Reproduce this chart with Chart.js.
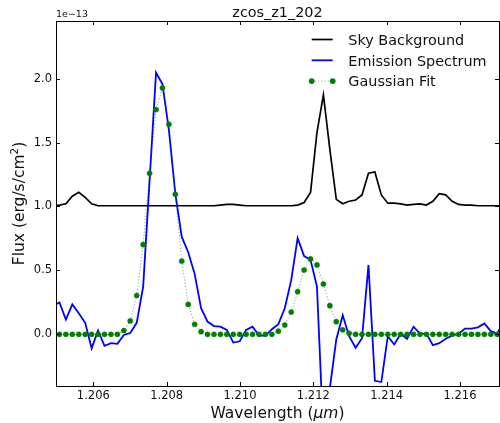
<!DOCTYPE html>
<html>
<head>
<meta charset="utf-8">
<script src="https://cdn.jsdelivr.net/npm/chart.js@4.4.0/dist/chart.umd.min.js"></script>
<style>
  html, body { margin: 0; padding: 0; background: #fff; overflow: hidden; }
  canvas { display: block; }
</style>
</head>
<body>
<canvas id="specChart" width="500" height="423"></canvas>
<script>
// wavelength grid (um), one extra sample each side so the lines reach the frame
const wavelength = [
  1.204900, 1.205076, 1.205252, 1.205427, 1.205603, 1.205778, 1.205954, 1.206129, 1.206305, 1.206481,
  1.206656, 1.206832, 1.207007, 1.207183, 1.207359, 1.207534, 1.207710, 1.207885, 1.208061, 1.208236,
  1.208412, 1.208588, 1.208763, 1.208939, 1.209114, 1.209290, 1.209466, 1.209641, 1.209817, 1.209992,
  1.210168, 1.210343, 1.210519, 1.210695, 1.210870, 1.211046, 1.211221, 1.211397, 1.211572, 1.211748,
  1.211924, 1.212099, 1.212275, 1.212450, 1.212626, 1.212802, 1.212977, 1.213153, 1.213328, 1.213504,
  1.213679, 1.213855, 1.214031, 1.214206, 1.214382, 1.214557, 1.214733, 1.214908, 1.215084, 1.215260,
  1.215435, 1.215611, 1.215786, 1.215962, 1.216138, 1.216313, 1.216489, 1.216664, 1.216840, 1.217015,
  1.217191
];

// flux in units of 1e-13
const skyBackground = [
  1.005, 1.01, 1.02, 1.08, 1.11, 1.07, 1.02, 1.005, 1.005, 1.005,
  1.005, 1.005, 1.005, 1.005, 1.005, 1.005, 1.005, 1.005, 1.005, 1.005,
  1.005, 1.005, 1.005, 1.005, 1.005, 1.005, 1.01, 1.015, 1.015, 1.01,
  1.005, 1.005, 1.005, 1.005, 1.005, 1.005, 1.005, 1.005, 1.01, 1.03,
  1.11, 1.58, 1.875, 1.45, 1.055, 1.02, 1.04, 1.05, 1.09, 1.26,
  1.27, 1.09, 1.025, 1.025, 1.02, 1.01, 1.015, 1.02, 1.01, 1.04,
  1.10, 1.09, 1.04, 1.015, 1.01, 1.01, 1.005, 1.005, 1.005, 1.005,
  1.005
];

const emission = [
  0.22, 0.245, 0.11, 0.23, 0.16, 0.085, -0.115, 0.025, -0.095, -0.075,
  -0.08, -0.01, 0.005, 0.085, 0.37, 1.20, 2.05, 1.96, 1.60, 1.10,
  0.76, 0.64, 0.47, 0.20, 0.095, 0.06, 0.055, 0.03, -0.07, -0.06,
  0.03, 0.055, -0.015, -0.015, 0.035, 0.075, 0.20, 0.42, 0.75, 0.61,
  0.58, 0.37, -0.80, -0.43, -0.045, 0.145, -0.02, -0.11, -0.035, 0.54,
  -0.37, -0.38, -0.02, -0.085, 0.00, -0.04, 0.055, 0.00, 0.00, -0.09,
  -0.075, -0.04, -0.015, 0.00, 0.04, 0.04, 0.05, 0.08, 0.02, 0.00,
  0.10
];

const gaussianFit = [
  null, -0.005, -0.005, -0.005, -0.005, -0.005, -0.005, -0.005, -0.005, -0.005,
  -0.005, 0.024, 0.10, 0.30, 0.70, 1.26, 1.76, 1.93, 1.645, 1.095,
  0.57, 0.23, 0.074, 0.016, -0.005, -0.005, -0.005, -0.005, -0.005, -0.005,
  -0.005, -0.005, -0.005, -0.005, -0.005, 0.02, 0.068, 0.17, 0.33, 0.50,
  0.587, 0.54, 0.39, 0.22, 0.094, 0.03, 0.003, -0.005, -0.005, -0.005,
  -0.005, -0.005, -0.005, -0.005, -0.005, -0.005, -0.005, -0.005, -0.005, -0.005,
  -0.005, -0.005, -0.005, -0.005, -0.005, -0.005, -0.005, -0.005, -0.005, -0.005,
  null
];

const xTicks = [1.206, 1.208, 1.210, 1.212, 1.214, 1.216];
const yTicks = [0.0, 0.5, 1.0, 1.5, 2.0];
const seriesNames = ['Sky Background', 'Emission Spectrum', 'Gaussian Fit'];

const FONT = "'DejaVu Sans', sans-serif";
const GREEN = '#007f00';

function points(values) {
  return wavelength.map((w, i) => ({ x: w, y: values[i] }));
}

// frame, inward ticks, title, axis titles and legend, drawn the matplotlib way
const decorations = {
  id: 'decorations',
  afterDraw(chart) {
    const { ctx, chartArea: a, scales } = chart;
    const xs = scales.x, ys = scales.y;
    ctx.save();

    ctx.strokeStyle = '#000';
    ctx.lineWidth = 1;
    ctx.strokeRect(a.left + 0.5, a.top + 0.5, a.right - a.left, a.bottom - a.top);

    ctx.beginPath();
    xTicks.forEach(v => {
      const px = Math.round(xs.getPixelForValue(v)) + 0.5;
      ctx.moveTo(px, a.bottom); ctx.lineTo(px, a.bottom - 4);
      ctx.moveTo(px, a.top); ctx.lineTo(px, a.top + 4);
    });
    yTicks.forEach(v => {
      const py = Math.round(ys.getPixelForValue(v)) + 0.5;
      ctx.moveTo(a.left, py); ctx.lineTo(a.left + 4, py);
      ctx.moveTo(a.right, py); ctx.lineTo(a.right - 4, py);
    });
    ctx.stroke();

    ctx.fillStyle = '#111';
    ctx.textBaseline = 'alphabetic';

    // title
    ctx.font = '14.4px ' + FONT;
    ctx.textAlign = 'center';
    ctx.fillText('zcos_z1_202', (a.left + a.right) / 2, 17);

    // offset text
    ctx.font = '9.5px ' + FONT;
    ctx.textAlign = 'left';
    ctx.fillText('1e\u221213', a.left, 17);

    // x axis title with italic mu m
    const cx = (a.left + a.right) / 2;
    const parts = [['Wavelength (', 'normal'], ['\u03bcm', 'italic'], [')', 'normal']];
    let total = 0;
    parts.forEach(p => { ctx.font = p[1] + ' 15.5px ' + FONT; total += ctx.measureText(p[0]).width; });
    let tx = cx - total / 2;
    parts.forEach(p => {
      ctx.font = p[1] + ' 15.5px ' + FONT;
      ctx.fillText(p[0], tx, 418);
      tx += ctx.measureText(p[0]).width;
    });

    // y axis title, rotated, with superscript 2
    ctx.save();
    ctx.translate(24, (a.top + a.bottom) / 2);
    ctx.rotate(-Math.PI / 2);
    ctx.font = '15.5px ' + FONT;
    const main = 'Flux (erg/s/cm';
    const mw = ctx.measureText(main).width;
    ctx.font = '10.5px ' + FONT;
    const sw = ctx.measureText('2').width;
    ctx.font = '15.5px ' + FONT;
    const cw = ctx.measureText(')').width;
    let yx = -(mw + sw + cw) / 2;
    ctx.fillText(main, yx, 0);
    yx += mw;
    ctx.font = '10.5px ' + FONT;
    ctx.fillText('2', yx, -6);
    yx += sw;
    ctx.font = '15.5px ' + FONT;
    ctx.fillText(')', yx, 0);
    ctx.restore();

    // legend
    const rows = [39.5, 60.3, 81.1];
    const x0 = 311.7, x1 = 332.7, textX = 348.3;
    ctx.font = '14.4px ' + FONT;
    ctx.textAlign = 'left';
    rows.forEach((ry, i) => {
      const ds = chart.data.datasets[i];
      ctx.save();
      ctx.strokeStyle = ds.borderColor;
      ctx.lineWidth = ds.borderWidth;
      if (i === 2) ctx.setLineDash(ds.borderDash);
      ctx.beginPath(); ctx.moveTo(x0, ry); ctx.lineTo(x1, ry); ctx.stroke();
      if (i === 2) {
        ctx.setLineDash([]);
        ctx.fillStyle = GREEN;
        [x0, x1].forEach(px => {
          ctx.beginPath(); ctx.arc(px, ry, ds.pointRadius + 0.3, 0, Math.PI * 2); ctx.fill();
        });
      }
      ctx.restore();
      ctx.fillText(seriesNames[i], textX, ry + 5.3);
    });

    ctx.restore();
  }
};

new Chart(document.getElementById('specChart').getContext('2d'), {
  type: 'line',
  data: {
    datasets: [
      {
        label: seriesNames[0],
        data: points(skyBackground),
        borderColor: '#000000',
        borderWidth: 1.7,
        pointRadius: 0,
        tension: 0,
        order: 2
      },
      {
        label: seriesNames[1],
        data: points(emission),
        borderColor: '#0000ff',
        borderWidth: 1.8,
        pointRadius: 0,
        tension: 0,
        order: 1
      },
      {
        label: seriesNames[2],
        data: points(gaussianFit),
        borderColor: 'rgba(0, 128, 0, 0.55)',
        borderWidth: 1,
        borderDash: [1.2, 2],
        pointRadius: 2.6,
        pointBorderWidth: 0.4,
        pointBackgroundColor: GREEN,
        pointBorderColor: GREEN,
        tension: 0,
        order: 0
      }
    ]
  },
  options: {
    responsive: false,
    animation: false,
    devicePixelRatio: 1,
    events: [],
    layout: {
      autoPadding: false,
      padding: { top: 21, right: 1, left: 0, bottom: 0 }
    },
    plugins: {
      legend: { display: false },
      title: { display: false },
      tooltip: { enabled: false }
    },
    scales: {
      x: {
        type: 'linear',
        min: 1.204982,
        max: 1.217064,
        grid: { display: false, drawTicks: false },
        border: { display: false },
        afterBuildTicks: s => { s.ticks = xTicks.map(v => ({ value: v })); },
        afterFit: s => { s.height = 37; s.paddingLeft = 0; s.paddingRight = 0; },
        ticks: {
          color: '#111',
          padding: 3,
          maxRotation: 0,
          font: { family: FONT, size: 11.5 },
          callback: v => Number(v).toFixed(3)
        }
      },
      y: {
        type: 'linear',
        min: -0.411,
        max: 2.456,
        grid: { display: false, drawTicks: false },
        border: { display: false },
        afterBuildTicks: s => { s.ticks = yTicks.map(v => ({ value: v })); },
        afterFit: s => { s.width = 56; s.paddingTop = 0; s.paddingBottom = 0; },
        ticks: {
          color: '#111',
          padding: 4,
          font: { family: FONT, size: 11.5 },
          callback: v => Number(v).toFixed(1)
        }
      }
    }
  },
  plugins: [decorations]
});
</script>
</body>
</html>
